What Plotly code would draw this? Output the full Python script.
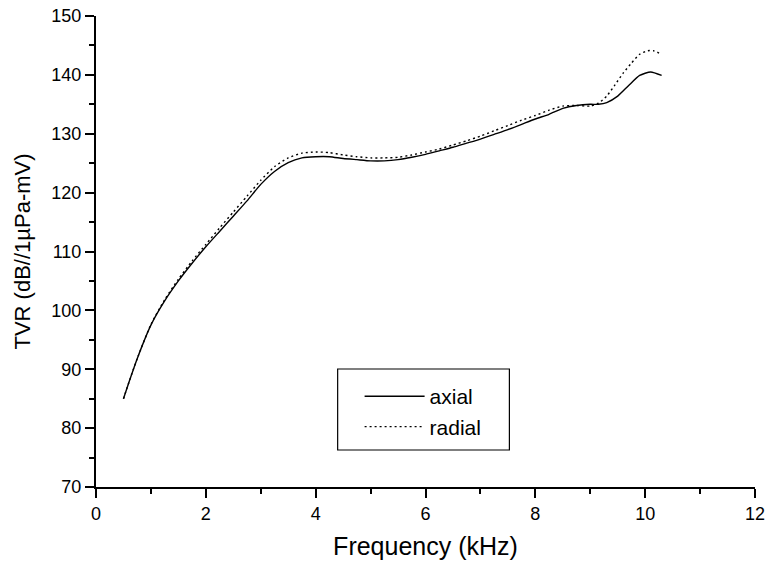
import plotly.graph_objects as go

# Frequency (kHz) and TVR values (dB re 1uPa/V)
axial_freq = [0.5, 0.6, 0.75, 1.0, 1.25, 1.5, 1.75, 2.0, 2.25, 2.5, 2.75, 3.0, 3.25, 3.5, 3.75,
              4.0, 4.25, 4.5, 4.75, 5.0, 5.25, 5.5, 5.75, 6.0, 6.25, 6.5, 6.75, 7.0, 7.25, 7.5,
              7.75, 8.0, 8.25, 8.5, 8.75, 9.0, 9.15, 9.3, 9.5, 9.7, 9.9, 10.1, 10.3]
axial_tvr = [85.0, 87.8, 91.8, 97.5, 101.6, 105.0, 108.0, 110.8, 113.4, 116.0, 118.6, 121.4, 123.6,
             125.1, 125.9, 126.1, 126.1, 125.8, 125.6, 125.4, 125.4, 125.6, 126.0, 126.5, 127.1,
             127.7, 128.4, 129.1, 129.9, 130.7, 131.6, 132.5, 133.3, 134.3, 134.8, 135.0, 135.0,
             135.3, 136.4, 138.2, 139.9, 140.5, 139.9]

radial_freq = [0.5, 0.6, 0.75, 1.0, 1.25, 1.5, 1.75, 2.0, 2.25, 2.5, 2.75, 3.0, 3.25, 3.5, 3.75,
               4.0, 4.25, 4.5, 4.75, 5.0, 5.25, 5.5, 5.75, 6.0, 6.25, 6.5, 6.75, 7.0, 7.25, 7.5,
               7.75, 8.0, 8.25, 8.5, 8.75, 9.0, 9.15, 9.3, 9.45, 9.6, 9.75, 9.9, 10.05, 10.15, 10.3]
radial_tvr = [85.0, 87.8, 91.8, 97.6, 101.8, 105.3, 108.4, 111.2, 114.0, 116.7, 119.4, 122.1, 124.4,
              125.9, 126.7, 126.9, 126.8, 126.4, 126.1, 125.9, 125.9, 126.0, 126.4, 126.9, 127.4,
              128.1, 128.8, 129.6, 130.5, 131.4, 132.3, 133.1, 134.0, 134.7, 134.8, 134.7, 135.2,
              136.4, 138.3, 140.3, 142.0, 143.5, 144.1, 144.1, 143.5]

x_ticks = [0, 2, 4, 6, 8, 10, 12]
y_ticks = [70, 80, 90, 100, 110, 120, 130, 140, 150]

FONT = "Liberation Sans, Arial, sans-serif"

fig = go.Figure()
fig.add_trace(go.Scatter(
    x=axial_freq, y=axial_tvr, mode="lines", name="axial", legendgroup="a",
    line=dict(color="black", width=1.4, shape="spline", smoothing=0.6),
))
fig.add_trace(go.Scatter(
    x=radial_freq, y=radial_tvr, mode="lines", name="radial", legendgroup="r",
    line=dict(color="black", width=1.4, dash="2px,3px", shape="spline", smoothing=0.6),
))

axis_common = dict(
    showgrid=False, zeroline=False, showline=True, linecolor="black", linewidth=2,
    ticks="outside", ticklen=9, tickwidth=2, tickcolor="black", automargin=False,
    ticklabeloverflow="allow",
    tickfont=dict(family=FONT, size=18, color="black"),
)

fig.update_xaxes(
    range=[0, 12], tickvals=x_ticks,
    minor=dict(dtick=1, ticks="outside", ticklen=5, tickwidth=2, tickcolor="black"),
    title=dict(text="Frequency (kHz)", font=dict(family=FONT, size=25, color="black")),
    **axis_common,
)
fig.update_yaxes(
    range=[70, 150], tickvals=y_ticks,
    minor=dict(dtick=5, ticks="outside", ticklen=5, tickwidth=2, tickcolor="black"),
    title=dict(text="TVR (dB//1µPa-mV)", font=dict(family=FONT, size=22, color="black")),
    **axis_common,
)

# legend frame (paper coordinates of the plot area)
fig.add_shape(type="rect", xref="paper", yref="paper",
              x0=0.3667, x1=0.6273, y0=0.0786, y1=0.2505,
              line=dict(color="black", width=1.2), fillcolor="rgba(0,0,0,0)")

fig.update_layout(
    width=766, height=565,
    margin=dict(l=96, r=11, t=16, b=78),
    paper_bgcolor="white", plot_bgcolor="white",
    font=dict(family=FONT, color="black"),
    showlegend=True,
    legend=dict(
        x=0.40, y=0.160, xanchor="left", yanchor="middle",
        borderwidth=0, bgcolor="rgba(0,0,0,0)",
        font=dict(family=FONT, size=21, color="black"),
        tracegroupgap=0, traceorder="grouped", itemwidth=60,
    ),
)

fig.write_html("out.html", config={"displayModeBar": False},
               post_script="document.body.style.margin='0';")
